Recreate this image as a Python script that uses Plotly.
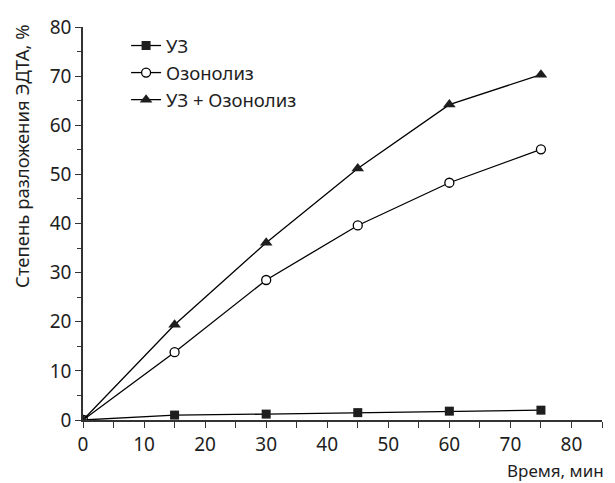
import plotly.graph_objects as go

time_min = [0, 15, 30, 45, 60, 75]
us_only = [0, 1.0, 1.2, 1.5, 1.8, 2.0]
ozonolysis = [0, 13.8, 28.5, 39.6, 48.3, 55.1]
us_plus_ozone = [0, 19.4, 36.1, 51.2, 64.2, 70.3]

names = ["УЗ", "Озонолиз", "УЗ + Озонолиз"]
FONT = "Noto Sans"
INK = "#1e1e1e"

fig = go.Figure()
fig.add_trace(go.Scatter(x=time_min, y=us_only, name=names[0], mode="lines+markers",
                         line=dict(color="black", width=1.3),
                         marker=dict(symbol="square", size=9, color=INK)))
fig.add_trace(go.Scatter(x=time_min, y=ozonolysis, name=names[1], mode="lines+markers",
                         line=dict(color="black", width=1.3),
                         marker=dict(symbol="circle", size=9, color="white",
                                     line=dict(color="black", width=1.3))))
fig.add_trace(go.Scatter(x=time_min, y=us_plus_ozone, name=names[2], mode="lines+markers",
                         line=dict(color="black", width=1.3),
                         marker=dict(symbol="triangle-up", size=11, color=INK)))

fig.update_layout(
    width=599, height=475,
    margin=dict(l=75, r=5, t=19, b=63, autoexpand=False),
    paper_bgcolor="white", plot_bgcolor="white",
    font=dict(family=FONT, size=18, color=INK),
    showlegend=True,
    legend=dict(x=0.083, y=1.0, xanchor="left", yanchor="top",
                bgcolor="rgba(0,0,0,0)", font=dict(size=18.5, color=INK),
                itemwidth=30, tracegroupgap=0),
    xaxis=dict(range=[0, 85], tickvals=[0, 10, 20, 30, 40, 50, 60, 70, 80],
               showgrid=False, zeroline=False, showline=True, linecolor="#333", linewidth=1.5,
               ticks="outside", ticklen=6, tickwidth=1.3, tickcolor="#333",
               minor=dict(dtick=5, ticks="outside", ticklen=6, tickwidth=1.3, tickcolor="#333"),
               tickfont=dict(size=19), automargin=False),
    yaxis=dict(range=[0, 80], dtick=10,
               showgrid=False, zeroline=False, showline=True, linecolor="#333", linewidth=1.5,
               ticks="outside", ticklen=6, tickwidth=1.3, tickcolor="#333",
               minor=dict(dtick=5, ticks="outside", ticklen=4, tickwidth=1.3, tickcolor="#333"),
               tickfont=dict(size=19), automargin=False),
)
fig.add_annotation(text="Степень разложения ЭДТА, %", xref="paper", yref="paper",
                   x=0, y=0.672, xanchor="center", yanchor="middle", xshift=-61,
                   textangle=-90, showarrow=False, font=dict(size=18.5, color=INK))
fig.add_annotation(text="Время, мин", xref="paper", yref="paper", x=1, y=0,
                   xanchor="right", yanchor="middle", xshift=4, yshift=-50,
                   showarrow=False, font=dict(size=17, color=INK))

fig.write_html("out.html")
